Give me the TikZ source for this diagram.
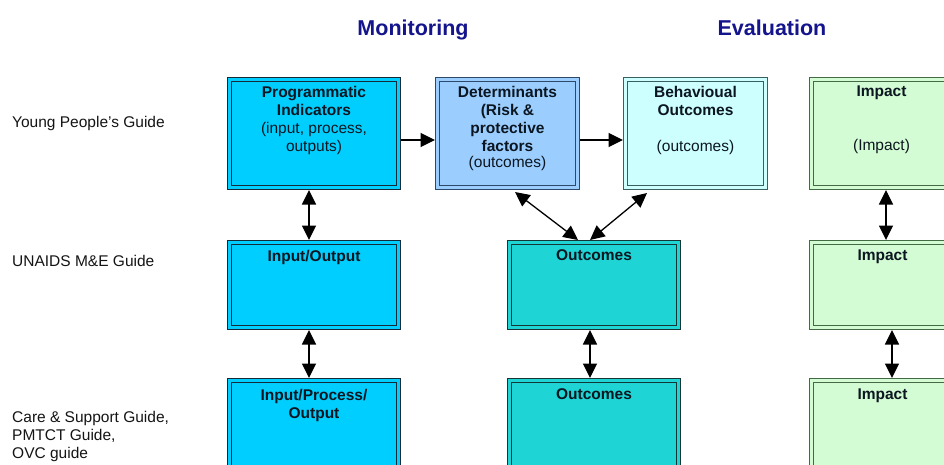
\documentclass[tikz,border=0pt]{standalone}
\usepackage{fontspec}
\setmainfont{Liberation Sans}
\usetikzlibrary{arrows.meta}

\definecolor{navyhead}{RGB}{20,20,140}
\definecolor{inkdark}{RGB}{12,22,32}
\definecolor{cyanfill}{RGB}{0,206,255}
\definecolor{cyanline}{RGB}{20,42,56}
\definecolor{detfill}{RGB}{155,206,255}
\definecolor{detline}{RGB}{44,72,106}
\definecolor{behfill}{RGB}{206,255,255}
\definecolor{behline}{RGB}{56,96,96}
\definecolor{impfill}{RGB}{212,252,212}
\definecolor{impline}{RGB}{68,106,68}
\definecolor{outfill}{RGB}{30,212,212}
\definecolor{outline}{RGB}{22,54,54}

% top-aligned, centred text block of a fixed size inside a box
\newcommand\boxlines[4]{\parbox[c][#2][t]{#1}{\centering\fontsize{15.5}{18}\selectfont\vspace*{#3}#4}}

\begin{document}
\begin{tikzpicture}[x=1pt,y=-1pt,
  mbox/.style 2 args={draw=#1, fill=#2, double=#2, line width=1.2pt,
    double distance=2.4pt, inner sep=0pt, outer sep=2.4pt, text=inkdark},
  head/.style={anchor=base, inner sep=0pt, text=navyhead,
    font=\fontsize{21.5}{24}\selectfont\bfseries},
  side/.style={anchor=base west, inner sep=0pt, text=black!92,
    font=\fontsize{15.5}{18}\selectfont},
  tip/.tip={Triangle[length=14.5pt,width=14pt]},
  conn/.style={line width=1.3pt, -tip},
  biconn/.style={line width=1.3pt, tip-tip}]

\clip (0,0) rectangle (944,464);

% column headings
\node[head] (mon) at (413,35) {Monitoring};
\node[head] (eva) at (772,35) {Evaluation};

% row labels
\node[side] (yp) at (12,127) {Young People's Guide};
\node[side] (un) at (12,266) {UNAIDS M\&E Guide};
\node[side] (cs) at (12,422) {\parbox[t]{200pt}{\fontsize{15.5}{18}\selectfont Care \& Support Guide,\\PMTCT Guide,\\OVC guide}};

% first row
\node[mbox={cyanline}{cyanfill}] (prog) at (314,133.5)
  {\boxlines{169.2pt}{108.2pt}{6.4pt}{\textbf{Programmatic}\\\textbf{Indicators}\\(input, process,\\outputs)}};
\node[mbox={detline}{detfill}] (det) at (507.5,133.5)
  {\boxlines{140.2pt}{108.2pt}{6.4pt}{\textbf{Determinants}\\\textbf{(Risk \&}\\\textbf{protective}\\\textbf{factors}\\[-1.5pt](outcomes)}};
\node[mbox={behline}{behfill}] (beh) at (695.5,133.5)
  {\boxlines{140.2pt}{108.2pt}{6.4pt}{\textbf{Behavioual}\\\textbf{Outcomes}\\[18pt](outcomes)}};
\node[mbox={impline}{impfill}] (imp1) at (881.5,133.5)
  {\boxlines{140.2pt}{108.2pt}{6.4pt}{\textbf{Impact}\\[36pt](Impact)}};

% second row
\node[mbox={cyanline}{cyanfill}] (io) at (314,285)
  {\boxlines{169.2pt}{85.2pt}{7.4pt}{\textbf{Input/Output}}};
\node[mbox={outline}{outfill}] (out2) at (594,285)
  {\boxlines{169.2pt}{85.2pt}{7.4pt}{\textbf{Outcomes}}};
\node[mbox={impline}{impfill}] (imp2) at (882.5,285)
  {\boxlines{142.2pt}{85.2pt}{7.4pt}{\textbf{Impact}}};

% third row
\node[mbox={cyanline}{cyanfill}] (ipo) at (314,428)
  {\boxlines{169.2pt}{95.2pt}{8.4pt}{\textbf{Input/Process/}\\\textbf{Output}}};
\node[mbox={outline}{outfill}] (out3) at (594,428)
  {\boxlines{169.2pt}{95.2pt}{8.4pt}{\textbf{Outcomes}}};
\node[mbox={impline}{impfill}] (imp3) at (882.5,428)
  {\boxlines{142.2pt}{95.2pt}{8.4pt}{\textbf{Impact}}};

% connectors
\draw[conn] ([yshift=-6.5pt]prog.east) -- ([yshift=-6.5pt]det.west);
\draw[conn] ([yshift=-6.5pt]det.east) -- ([yshift=-6.5pt]beh.west);
\draw[biconn] ([xshift=-5pt]prog.south) -- ([xshift=-5pt]io.north);
\draw[biconn] ([xshift=-5pt]io.south) -- ([xshift=-5pt]ipo.north);
\draw[biconn] ([xshift=7.5pt,yshift=-2pt]det.south) -- ([xshift=-16pt]out2.north);
\draw[biconn] ([xshift=-48.5pt,yshift=-3pt]beh.south) -- ([xshift=-4pt]out2.north);
\draw[biconn] ([xshift=-4pt]out2.south) -- ([xshift=-4pt]out3.north);
\draw[biconn] ([xshift=4.5pt]imp1.south) -- ([xshift=3.5pt]imp2.north);
\draw[biconn] ([xshift=9.5pt]imp2.south) -- ([xshift=9.5pt]imp3.north);
\end{tikzpicture}
\end{document}
